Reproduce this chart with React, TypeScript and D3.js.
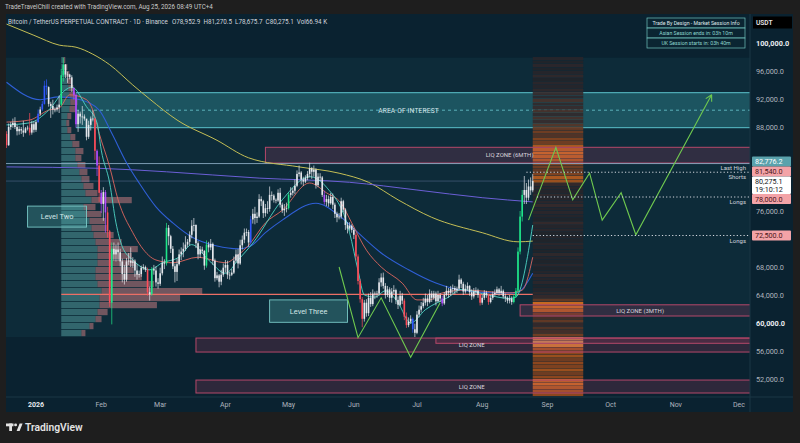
import React from 'react';
import * as d3 from 'd3';

// daily candles, [high, low, close] in thousands of USDT; open = previous close
const candleStart = '2025-12-18';
const firstOpen = 87.0;
const dec25 = [[87.4,85.0,85.4],[88.5,85.3,88.0],[88.7,87.6,88.3],[89.2,87.9,88.6],[89.4,87.7,88.0],[88.3,86.8,87.4],[88.1,86.9,87.7],[88.0,87.0,87.5],[88.9,86.6,87.2],[88.0,87.1,87.8],[88.2,87.5,87.9],[90.0,86.8,87.2],[88.9,86.9,88.4],[88.8,87.2,87.6]];
const jan26 = [[88.9,87.3,88.7],[90.5,88.6,89.9],[90.9,89.6,90.5],[91.7,90.3,91.3],[94.6,91.2,93.9],[94.8,92.6,93.7],[93.8,90.9,91.3],[91.6,89.3,91.0],[91.9,89.8,90.5],[90.8,90.1,90.5],[91.2,90.2,90.8],[92.5,90.0,91.2],[96.3,91.0,95.4],[97.9,94.5,96.9],[97.0,95.0,95.5],[95.9,94.3,95.5],[95.6,94.8,95.1],[95.4,93.0,93.6],[93.2,91.9,92.6],[92.8,87.9,88.4],[90.4,87.3,89.9],[90.2,88.5,89.5],[91.0,88.3,89.5],[89.8,88.9,89.2],[89.1,86.1,86.6],[88.9,86.3,88.3],[89.5,87.5,89.2],[90.4,88.8,89.2],[89.3,83.3,84.6],[84.8,81.0,82.5],[83.8,77.3,78.6]];
const feb26 = [[79.0,75.7,77.0],[79.4,74.6,78.7],[79.0,72.9,75.8],[76.6,72.2,73.1],[73.3,62.3,62.9],[71.5,59.8,70.6],[71.5,68.9,69.8],[71.2,68.8,70.5],[71.5,68.9,70.1],[70.6,68.1,68.8],[69.2,65.8,67.0],[68.3,65.5,66.2],[69.3,65.9,68.8],[70.0,68.3,68.9],[70.8,68.0,68.6],[69.4,67.9,68.8],[69.1,66.6,67.5],[68.4,66.2,66.9],[67.5,66.5,67.0],[68.2,66.6,67.9],[68.4,67.6,68.0],[68.2,67.3,67.6],[67.9,63.9,64.4],[65.2,63.2,64.1],[68.0,63.9,67.7],[68.3,66.9,67.5],[68.1,65.2,65.8],[66.4,64.9,65.6]];
const mar26 = [[67.9,65.3,67.1],[69.5,66.8,68.6],[69.1,67.7,68.5],[74.3,68.2,73.6],[74.0,71.1,72.4],[72.6,70.0,70.6],[71.0,67.7,68.1],[68.5,65.8,67.3],[69.2,66.0,68.4],[70.5,68.2,69.8],[70.8,69.0,70.2],[71.5,69.4,70.6],[72.4,70.3,71.2],[72.0,70.8,71.6],[73.1,71.1,72.6],[74.7,72.1,73.9],[75.0,73.1,74.0],[74.1,70.7,71.4],[71.7,69.1,69.8],[71.0,69.3,70.5],[70.9,69.9,70.3],[70.4,67.6,68.2],[71.8,67.9,71.2],[71.6,70.1,70.8],[72.0,70.4,71.3],[71.5,68.3,68.9],[69.2,65.9,66.4],[67.3,66.1,66.8],[67.0,65.1,65.9],[67.6,65.4,66.9],[68.5,66.6,67.9]];
const apr26 = [[69.0,67.2,68.3],[68.9,66.3,66.9],[67.3,66.2,66.9],[67.7,66.7,67.2],[69.5,67.0,68.9],[70.5,68.6,69.8],[70.6,67.8,68.5],[71.9,68.3,71.1],[72.5,70.5,71.9],[73.5,71.4,72.9],[73.5,72.4,73.0],[73.3,70.9,71.5],[75.3,71.2,74.8],[76.3,74.2,75.6],[76.6,74.1,75.0],[75.8,74.3,75.2],[78.4,75.0,77.7],[78.1,76.7,77.4],[77.6,75.0,75.7],[77.0,75.2,76.4],[77.4,75.6,76.3],[79.5,75.9,78.3],[78.8,77.5,78.2],[78.4,77.2,77.6],[77.8,77.1,77.5],[79.1,77.3,78.6],[79.3,76.5,76.9],[77.2,75.7,76.1],[77.0,75.3,76.3],[77.2,75.8,76.4]];
const may26 = [[78.6,76.2,78.3],[79.4,77.9,78.6],[79.3,78.2,78.9],[80.5,78.4,79.6],[81.8,79.4,81.3],[82.5,80.9,81.5],[81.7,79.8,80.5],[80.9,79.6,80.2],[81.1,80.0,80.7],[81.7,80.4,81.3],[82.9,80.8,82.1],[82.3,80.6,81.6],[82.5,80.9,81.9],[82.1,79.2,79.7],[81.4,79.4,80.9],[81.4,80.3,80.8],[81.0,78.0,78.3],[78.9,76.9,77.3],[78.3,76.7,77.7],[78.2,76.6,77.1],[78.6,76.9,78.0],[78.5,76.3,76.9],[77.2,75.0,75.6],[75.9,74.4,75.1],[75.7,74.8,75.2],[77.9,74.9,77.4],[77.6,75.8,76.2],[76.4,73.3,74.0],[74.4,72.8,73.5],[74.4,73.2,73.9],[74.1,72.9,73.3]];
const jun26 = [[73.6,72.0,72.6],[72.9,69.0,69.5],[69.8,65.5,66.0],[66.3,62.9,63.4],[63.7,59.4,60.6],[63.3,60.2,62.9],[63.4,60.9,61.4],[64.2,61.0,63.6],[64.4,62.3,62.7],[64.8,62.4,64.2],[64.5,63.4,64.1],[64.6,63.6,64.2],[66.4,63.9,65.8],[67.1,65.2,66.5],[67.2,64.9,65.3],[65.7,63.5,64.0],[65.3,63.7,64.8],[65.1,63.0,63.6],[65.0,62.9,64.5],[65.4,64.1,64.7],[64.9,62.7,63.3],[63.8,62.0,62.6],[64.6,62.4,63.9],[64.3,62.7,63.2],[63.5,60.4,60.9],[61.5,59.3,59.7],[60.8,59.4,60.2],[61.1,59.9,60.6],[60.8,58.6,59.1],[59.9,58.0,58.6]];
const jul26 = [[61.7,58.4,61.2],[62.5,60.8,61.9],[63.0,61.5,62.4],[63.6,62.1,62.9],[64.2,62.5,63.5],[64.0,62.4,63.0],[64.8,62.8,64.2],[64.6,63.0,63.6],[64.6,63.3,64.2],[64.5,62.5,63.1],[64.6,63.0,64.0],[64.3,63.0,63.5],[63.9,62.4,62.8],[64.4,62.6,64.0],[65.3,63.8,64.6],[65.0,63.6,64.3],[65.3,63.9,64.9],[65.5,64.2,65.0],[65.3,64.1,64.7],[65.2,64.3,64.9],[66.9,64.6,66.2],[66.4,65.0,65.6],[65.9,64.0,64.5],[65.5,64.2,64.9],[65.8,64.6,65.3],[65.4,63.9,64.4],[64.8,63.3,63.8],[65.0,63.5,64.5],[65.1,64.0,64.6],[64.9,63.6,64.0],[64.3,62.5,62.9]];
const aug26 = [[64.0,62.6,63.6],[64.7,63.3,64.3],[64.6,63.6,64.0],[64.2,62.6,63.0],[64.0,62.8,63.6],[64.5,63.3,64.1],[64.8,63.8,64.3],[65.2,64.0,64.8],[65.0,63.9,64.3],[65.3,64.0,64.6],[64.8,63.5,63.8],[64.2,63.0,63.6],[63.8,62.8,63.2],[64.0,62.8,63.5],[63.8,62.6,63.0],[64.1,62.8,63.8],[65.0,63.6,64.6],[70.8,64.3,70.2],[76.0,69.8,75.2],[79.0,74.5,78.3],[81.0,77.0,79.0],[80.0,77.0,77.9],[80.5,77.5,79.5],[80.8,78.3,78.95],[81.27,78.68,80.28]];

// indicator bar colouring
const greenDays = ['2026-01-13','2026-01-14','2026-02-06','2026-02-25','2026-03-04','2026-03-23','2026-05-01','2026-08-16','2026-08-17','2026-08-18','2026-08-19','2026-08-20'];
const redDays = ['2025-12-18','2025-12-29','2026-01-29','2026-01-31','2026-02-04','2026-02-05','2026-02-23','2026-06-02','2026-06-03','2026-06-04','2026-06-05','2026-06-25','2026-06-26','2026-07-31','2026-08-04'];
const blueDays = ['2026-01-02','2026-01-04','2026-01-05','2026-01-06','2026-04-13','2026-06-29'];
const purpleDays = ['2026-01-19','2026-01-20','2026-01-30','2026-02-01','2026-02-03','2026-05-18','2026-07-13'];

// moving averages, [date, price k]
const maYellow = [['2025-12-18',102.7],['2025-12-31',101.1],['2026-01-12',99.7],['2026-01-20',99.4],['2026-01-28',98.4],['2026-02-05',96.9],['2026-02-16',94.0],['2026-02-24',92.0],['2026-03-09',89.0],['2026-03-28',86.1],['2026-04-12',83.6],['2026-05-06',82.3],['2026-05-25',81.4],['2026-06-08',80.1],['2026-06-22',77.6],['2026-07-08',75.1],['2026-08-01',72.9],['2026-08-18',71.6],['2026-08-25',71.7]];
const maPurple = [['2025-12-18',82.3],['2026-01-31',82.1],['2026-03-04',81.6],['2026-04-17',80.7],['2026-05-30',80.1],['2026-07-01',79.0],['2026-08-01',77.9],['2026-08-25',77.3]];
const maBlue = [['2025-12-18',94.4],['2026-01-03',91.9],['2026-01-12',92.3],['2026-01-22',91.9],['2026-01-31',90.4],['2026-02-06',87.1],['2026-02-13',82.9],['2026-02-19',80.0],['2026-02-27',76.6],['2026-03-07',74.3],['2026-03-16',72.3],['2026-03-28',71.0],['2026-04-07',70.6],['2026-04-13',71.0],['2026-04-20',72.9],['2026-04-28',74.7],['2026-05-14',77.1],['2026-05-26',75.1],['2026-06-03',72.9],['2026-06-14',70.0],['2026-06-27',67.6],['2026-07-10',65.7],['2026-07-22',64.7],['2026-08-10',64.3],['2026-08-17',64.3],['2026-08-25',67.1]];
const maRed = [['2025-12-18',88.7],['2025-12-29',89.0],['2026-01-07',90.4],['2026-01-12',90.7],['2026-01-17',92.6],['2026-01-25',91.9],['2026-01-28',90.4],['2026-01-31',87.1],['2026-02-05',82.3],['2026-02-09',77.6],['2026-02-16',72.9],['2026-02-20',70.9],['2026-02-27',69.0],['2026-03-07',68.6],['2026-03-19',69.4],['2026-04-01',68.6],['2026-04-07',69.7],['2026-04-12',71.1],['2026-04-20',74.3],['2026-04-28',76.1],['2026-05-11',80.0],['2026-05-19',78.6],['2026-05-26',77.1],['2026-05-31',74.3],['2026-06-07',70.4],['2026-06-14',68.0],['2026-06-24',65.7],['2026-07-01',63.3],['2026-07-07',63.3],['2026-07-13',64.3],['2026-07-24',64.7],['2026-08-14',64.3],['2026-08-20',64.7],['2026-08-25',69.4]];
const maTeal = [['2025-12-18',88.3],['2025-12-29',88.6],['2026-01-07',90.4],['2026-01-15',93.3],['2026-01-18',93.7],['2026-01-25',90.9],['2026-01-30',88.6],['2026-02-01',84.7],['2026-02-05',80.0],['2026-02-08',74.3],['2026-02-11',70.9],['2026-02-16',69.0],['2026-02-24',67.6],['2026-03-02',68.6],['2026-03-10',69.4],['2026-03-16',71.2],['2026-03-24',69.0],['2026-04-01',67.1],['2026-04-07',69.0],['2026-04-14',71.4],['2026-04-28',77.6],['2026-05-11',80.9],['2026-05-19',79.4],['2026-05-30',72.9],['2026-06-03',67.5],['2026-06-06',64.0],['2026-06-11',63.7],['2026-06-16',64.6],['2026-06-22',62.9],['2026-06-28',60.0],['2026-07-05',61.9],['2026-07-16',63.7],['2026-07-22',64.8],['2026-08-05',63.9],['2026-08-14',63.5],['2026-08-17',63.7],['2026-08-25',74.0]];

// drawn projections
const projW = [['2026-05-25',68.0],['2026-06-03',57.9],['2026-06-14',63.6],['2026-06-28',55.1],['2026-07-12',62.9]];
const projUp = [['2026-08-23',74.7],['2026-09-05',85.1],['2026-09-13',77.6],['2026-09-21',81.4],['2026-09-27',74.7],['2026-10-06',78.6],['2026-10-13',72.6],['2026-11-18',92.6]];

// volume profile rows (row floor, total, buy part)
const profAnchor = '2026-01-13';
const profRows = [58,59,60,61,62,63,64,65,66,67,68,69,70,71,72,73,74,75,76,77,78,79,80,81,82,83,84,85,86,87,88,89,90,91,92,93,94,95,96,97];
const profTotal = [24,32,40,46,95,118,140,92,80,72,74,70,76,60,52,45,44,40,34,70,36,32,28,26,24,20,22,18,14,10,8,10,14,16,14,12,10,8,6,4];
const profBuy = [20,28,34,36,38,38,40,36,34,34,36,36,36,34,32,30,28,24,22,30,24,22,20,18,16,14,14,11,9,6,5,6,8,9,8,7,6,5,3,2];
const pocPrice = 64.1;

// liquidation heatmap column, [row top, intensity]
const heatFrom = '2026-08-25';
const heatTo = '2026-09-18';
const heat = [[98,.15],[97.5,.1],[97,.2],[96.5,.1],[96,.15],[95.5,.25],[95,.1],[94.5,.2],[94,.15],[93.5,.25],[93,.3],[92.5,.2],[92,.35],[91.5,.25],[91,.3],[90.5,.35],[90,.25],[89.5,.35],[89,.3],[88.5,.4],[88,.45],[87.5,.5],[87,.4],[86.5,.55],[86,.5],[85.5,.7],[85,.8],[84.5,.85],[84,.8],[83.5,.75],[83,.55],[82.5,.5],[82,.45],[81.5,.55],[81,.7],[80.5,.65],[80,.3],[79.5,.2],[79,.15],[78.5,.25],[78,.15],[77.5,.2],[77,.3],[76.5,.15],[76,.2],[75.5,.15],[75,.1],[74.5,.3],[74,.15],[73.5,.2],[73,.1],[72.5,.15],[72,.1],[71.5,.2],[71,.15],[70.5,.1],[70,.25],[69.5,.15],[69,.1],[68.5,.2],[68,.1],[67.5,.15],[67,.3],[66.5,.15],[66,.2],[65.5,.1],[65,.15],[64.5,.25],[64,.3],[63.5,.45],[63,.8],[62.5,.85],[62,.75],[61.5,.5],[61,.35],[60.5,.45],[60,.3],[59.5,.4],[59,.35],[58.5,.5],[58,.95],[57.5,1],[57,.9],[56.5,.7],[56,.6],[55.5,.65],[55,.5],[54.5,.6],[54,.55],[53.5,.65],[53,.5],[52.5,.6],[52,.8],[51.5,.85],[51,.75],[50.5,.7],[50,.6]];

const aoi = { from: '2026-01-20', top: 92.9, bottom: 87.9, labelAt: '2026-06-27', label: 'AREA OF INTEREST' };
const liqZones = [
  { from: '2026-04-20', top: 85.1, bottom: 82.85, label: 'LIQ ZONE (6MTH)', labelAt: '2026-08-14' },
  { from: '2026-08-19', top: 62.6, bottom: 61.0, label: 'LIQ ZONE (3MTH)', labelAt: '2026-10-15' },
  { from: '2026-03-18', top: 57.85, bottom: 55.85, label: 'LIQ ZONE', labelAt: '2026-07-27' },
  { from: '2026-07-10', top: 57.85, bottom: 57.1, label: '', labelAt: '' },
  { from: '2026-03-18', top: 51.85, bottom: 50.0, label: 'LIQ ZONE', labelAt: '2026-07-27' },
];
const levelBoxes = [
  { from: '2025-12-28', to: '2026-01-25', top: 76.7, bottom: 73.7, label: 'Level Two' },
  { from: '2026-04-22', to: '2026-05-29', top: 63.3, bottom: 60.1, label: 'Level Three' },
];
const levels = [
  { p: 81.54, from: '2026-08-22', above: 'Last High', below: 'Shorts' },
  { p: 78.0, from: '2026-08-27', above: '', below: 'Longs' },
  { p: 72.5, from: '2026-08-25', above: '', below: 'Longs' },
];
const highLine = 82.7762;
const lastPrice = 80.2751;
const axisTags = [
  { p: 82.7762, text: '82,776.2', sub: '', bg: '#5aa2ac', fg: '#ffffff' },
  { p: 81.54, text: '81,540.0', sub: '', bg: '#f3a3a7', fg: '#4a1418' },
  { p: 80.2751, text: '80,275.1', sub: '19:10:12', bg: '#ffffff', fg: '#131722' },
  { p: 78.0, text: '78,000.0', sub: '', bg: '#f3a3a7', fg: '#4a1418' },
  { p: 72.5, text: '72,500.0', sub: '', bg: '#f3a3a7', fg: '#4a1418' },
];
const sessionRows = ['Trade By Design - Market Session Info', 'Asian Session ends in: 03h 10m', 'UK Session starts in: 03h 40m'];

const FONT = "Roboto, 'Noto Sans', sans-serif";
const parse = d3.utcParse('%Y-%m-%d');
const day = (s: string) => parse(s) as Date;
const fmtDay = d3.utcFormat('%Y-%m-%d');

const x = d3.scaleUtc().domain([day('2026-01-01'), day('2026-12-01')]).range([36, 739]);
const y = d3.scaleLinear().domain([52, 100]).range([379, 43]);
const L = 6, R = 750, T = 14, B = 397;

const rows = [dec25, jan26, feb26, mar26, apr26, may26, jun26, jul26, aug26].flat();
const candles = rows.map((d, i) => ({
  date: d3.utcDay.offset(day(candleStart), i),
  o: i === 0 ? firstOpen : rows[i - 1][2],
  h: d[0], l: d[1], c: d[2],
}));
const lastDate = candles[candles.length - 1].date;
const colorSets: [string[], string][] = [[greenDays, '#1fe58a'], [redDays, '#ff4d5a'], [blueDays, '#3158ff'], [purpleDays, '#b14cff']];
const candleColor = (dt: Date) => {
  const k = fmtDay(dt);
  for (const [list, col] of colorSets) if (list.includes(k)) return col;
  return '#e4e7ec';
};

const maLine = d3.line<any>().x(d => x(day(d[0]))).y(d => y(d[1])).curve(d3.curveMonotoneX);
const straight = d3.line<any>().x(d => x(day(d[0]))).y(d => y(d[1]));

const profW = d3.scaleLinear().domain([0, d3.max(profTotal) as number]).range([0, 141]);
const heatColor = d3.scaleLinear<string>().domain([0, 0.3, 0.6, 0.85, 1]).range(['#182129', '#37292a', '#9a4a1d', '#ec7a1f', '#ffbd5a']);

function layoutTags() {
  const base = axisTags.map(t => ({ ...t, h: t.sub ? 17.5 : 10, top: 0 }));
  const anchor = base.findIndex(t => t.sub);
  base[anchor].top = y(base[anchor].p) - 4.5;
  for (let i = anchor - 1; i >= 0; i--) {
    const want = y(base[i].p) - base[i].h / 2;
    base[i].top = Math.min(want, base[i + 1].top - base[i].h);
  }
  for (let i = anchor + 1; i < base.length; i++) {
    const want = y(base[i].p) - base[i].h / 2;
    base[i].top = Math.max(want, base[i - 1].top + base[i - 1].h);
  }
  return base;
}

const App = () => {
  const tags = layoutTags();
  const rangeHi = d3.max(candles, d => d.h) as number;
  const rangeLo = d3.min(candles, d => d.l) as number;
  // tick labels covered by a price tag are not shown
  const priceTicks = d3.range(52, 101, 4).filter(p => !tags.some(t => y(p) > t.top - 3 && y(p) < t.top + t.h + 3));
  const months = x.ticks(d3.utcMonth.every(1) as any);
  const arrowEnd = projUp[projUp.length - 1];
  const arrowPrev = projUp[projUp.length - 2];
  const ax = x(day(arrowEnd[0] as string)), ay = y(arrowEnd[1] as number);
  const ang = Math.atan2(ay - y(arrowPrev[1] as number), ax - x(day(arrowPrev[0] as string)));

  return (
    <div style={{ position: 'absolute', left: 0, top: 0 }}>
      <svg width={800} height={443} style={{ display: 'block', fontFamily: FONT }}>
        <defs>
          <clipPath id="plot"><rect x={L} y={T} width={R - L} height={B - T} /></clipPath>
        </defs>
        <rect width={800} height={443} fill="#1e1e1e" />
        <rect x={L} y={T} width={793 - L} height={412 - T} fill="#0a2230" />
        <g clipPath="url(#plot)">
          <rect x={L} y={y(rangeHi)} width={R - L} height={y(rangeLo) - y(rangeHi)} fill="#0d2b39" />
          {/* area of interest */}
          <rect x={x(day(aoi.from))} y={y(aoi.top)} width={R - x(day(aoi.from))} height={y(aoi.bottom) - y(aoi.top)} fill="rgba(64,178,190,0.3)" />
          <line x1={x(day(aoi.from))} x2={R} y1={y(aoi.top)} y2={y(aoi.top)} stroke="#5cc3cc" strokeWidth={1} />
          <line x1={x(day(aoi.from))} x2={R} y1={y(aoi.bottom)} y2={y(aoi.bottom)} stroke="#5cc3cc" strokeWidth={1} />
          <line x1={x(day(aoi.from))} x2={R} y1={y((aoi.top + aoi.bottom) / 2)} y2={y((aoi.top + aoi.bottom) / 2)} stroke="#6cc9d2" strokeWidth={0.8} strokeDasharray="3 3" />

          {/* heatmap */}
          {heat.map(([p, v], i) => (
            <rect key={i} x={x(day(heatFrom))} width={x(day(heatTo)) - x(day(heatFrom))} y={y(p)} height={y(p - 0.5) - y(p) - 0.4}
              fill={heatColor(v)} opacity={0.9} />
          ))}

          {/* volume profile */}
          {profRows.map((p, i) => {
            const x0 = x(day(profAnchor));
            const yt = y(p + 1), h = y(p) - y(p + 1) - 0.8;
            return (
              <g key={i}>
                <rect x={x0} y={yt} width={profW(profBuy[i])} height={h} fill="rgba(96,176,172,0.45)" />
                <rect x={x0 + profW(profBuy[i])} y={yt} width={profW(profTotal[i] - profBuy[i])} height={h} fill="rgba(214,130,134,0.5)" />
              </g>
            );
          })}

          {/* liquidation zones */}
          {liqZones.map((z, i) => (
            <rect key={i} x={x(day(z.from))} y={y(z.top)} width={R - x(day(z.from)) + 2} height={y(z.bottom) - y(z.top)}
              fill="rgba(150,58,92,0.26)" stroke="#b5486a" strokeWidth={1} />
          ))}

          {/* horizontal lines */}
          <line x1={L} x2={R} y1={y(highLine)} y2={y(highLine)} stroke="#8fb0c8" strokeWidth={1} opacity={0.85} />
          <line x1={L} x2={x(lastDate)} y1={y(lastPrice)} y2={y(lastPrice)} stroke="#7f8fc0" strokeWidth={0.6} opacity={0.6} />
          <line x1={x(day(profAnchor))} x2={x(lastDate)} y1={y(pocPrice)} y2={y(pocPrice)} stroke="#ec6f66" strokeWidth={1.2} />

          {/* moving averages */}
          <path d={maLine(maYellow) as string} fill="none" stroke="#c4be55" strokeWidth={1} />
          <path d={maLine(maPurple) as string} fill="none" stroke="#6b5fd6" strokeWidth={1} />
          <path d={maLine(maBlue) as string} fill="none" stroke="#2f5fd6" strokeWidth={1.1} />
          <path d={maLine(maRed) as string} fill="none" stroke="#e0675f" strokeWidth={0.9} />
          <path d={maLine(maTeal) as string} fill="none" stroke="#4fd6c6" strokeWidth={0.9} />

          {/* candles */}
          {candles.map((c, i) => {
            const cx = x(c.date);
            const col = candleColor(c.date);
            const top = Math.min(y(c.o), y(c.c));
            const hb = Math.max(0.8, Math.abs(y(c.o) - y(c.c)));
            return (
              <g key={i}>
                <line x1={cx} x2={cx} y1={y(c.h)} y2={y(c.l)} stroke={col} strokeWidth={0.7} />
                <rect x={cx - 0.8} y={top} width={1.6} height={hb} fill={col} />
              </g>
            );
          })}

          {/* level boxes */}
          {levelBoxes.map((b, i) => (
            <g key={i}>
              <rect x={x(day(b.from))} y={y(b.top)} width={x(day(b.to)) - x(day(b.from))} height={y(b.bottom) - y(b.top)}
                fill="rgba(86,176,176,0.3)" stroke="#79c9c6" strokeWidth={0.9} />
              <text x={(x(day(b.from)) + x(day(b.to))) / 2} y={(y(b.top) + y(b.bottom)) / 2 + 2.6} fontSize={7.4} fill="#d3e7e6" textAnchor="middle">{b.label}</text>
            </g>
          ))}

          {/* projections */}
          <path d={straight(projW) as string} fill="none" stroke="#6fc94f" strokeWidth={1.1} />
          <path d={straight(projUp) as string} fill="none" stroke="#6fc94f" strokeWidth={1.1} />
          {[-1, 1].map(s => (
            <line key={s} x1={ax} y1={ay} x2={ax - 7 * Math.cos(ang + s * 0.5)} y2={ay - 7 * Math.sin(ang + s * 0.5)} stroke="#6fc94f" strokeWidth={1.1} />
          ))}

          {/* dotted levels */}
          {levels.map((lv, i) => (
            <g key={i}>
              <line x1={x(day(lv.from))} x2={R} y1={y(lv.p)} y2={y(lv.p)} stroke="#d5d9e0" strokeWidth={1} strokeDasharray="1.2 2.2" />
              {lv.above && <text x={R - 4} y={y(lv.p) - 2.2} fontSize={6} fill="#d1d4dc" textAnchor="end">{lv.above}</text>}
              {lv.below && <text x={R - 4} y={y(lv.p) + 7.2} fontSize={6} fill="#d1d4dc" textAnchor="end">{lv.below}</text>}
            </g>
          ))}

          {/* zone labels */}
          <text x={x(day(aoi.labelAt))} y={y((aoi.top + aoi.bottom) / 2) + 2.3} fontSize={6.6} fill="#d6e6ea" textAnchor="middle" letterSpacing={0.2}>{aoi.label}</text>
          {liqZones.filter(z => z.label).map((z, i) => (
            <text key={i} x={x(day(z.labelAt))} y={(y(z.top) + y(z.bottom)) / 2 + 2.2} fontSize={6} fill="#d8d3dc" textAnchor="middle">{z.label}</text>
          ))}
        </g>

        {/* header */}
        <text x={5} y={9} fontSize={6.3} fill="#c9c9c9">TradeTravelChill created with TradingView.com, Aug 25, 2026 08:49 UTC+4</text>
        <text x={8} y={23.5} fontSize={6.3} fill="#d1d4dc">
          Bitcoin / TetherUS PERPETUAL CONTRACT · 1D · Binance
          <tspan dx={4}>O78,952.9</tspan><tspan dx={3}>H81,270.5</tspan><tspan dx={3}>L78,675.7</tspan><tspan dx={3}>C80,275.1</tspan><tspan dx={3}>Vol66.94 K</tspan>
        </text>

        {/* session info table */}
        <g>
          {sessionRows.map((r, i) => (
            <g key={i}>
              <rect x={647} y={18 + i * 10} width={98} height={10} fill="rgba(12,40,52,0.6)" stroke="#6fc3bd" strokeWidth={0.7} />
              <text x={696} y={24.8 + i * 10} fontSize={5.2} fill={i === 0 ? '#dfe8ea' : '#8fd7cf'} textAnchor="middle">{r}</text>
            </g>
          ))}
        </g>

        {/* price axis */}
        <line x1={R} x2={R} y1={T} y2={412} stroke="#1b3644" strokeWidth={1} />
        <rect x={753} y={16.5} width={39} height={12} fill="#000000" />
        <text x={756} y={25} fontSize={6.6} fill="#e8e8e8" fontWeight={600}>USDT</text>
        {priceTicks.map(p => (
          <text key={p} x={756} y={y(p) + 2.6} fontSize={7.3} fill={p % 20 === 0 ? '#eceff3' : '#aeb4bd'} fontWeight={p % 20 === 0 ? 700 : 400}>
            {d3.format(',.1f')(p * 1000)}
          </text>
        ))}
        {tags.map((t, i) => (
          <g key={i}>
            <rect x={752} y={t.top} width={39} height={t.h} fill={t.bg} rx={1} />
            <text x={755} y={t.top + 7.5} fontSize={7.2} fill={t.fg}>{t.text}</text>
            {t.sub && <text x={755} y={t.top + 15.5} fontSize={7.2} fill={t.fg}>{t.sub}</text>}
          </g>
        ))}

        {/* time axis */}
        <line x1={L} x2={793} y1={B} y2={B} stroke="#1b3644" strokeWidth={1} />
        {months.map((m, i) => (
          <text key={i} x={x(m)} y={406.5} fontSize={7} textAnchor="middle"
            fill={m.getUTCMonth() === 0 ? '#e6e9ee' : '#aeb4bd'} fontWeight={m.getUTCMonth() === 0 ? 700 : 400}>
            {m.getUTCMonth() === 0 ? d3.utcFormat('%Y')(m) : d3.utcFormat('%b')(m)}
          </text>
        ))}

        {/* footer logo */}
        <g fill="#e3e3e3">
          <rect x={6} y={423.5} width={7.5} height={2.8} />
          <rect x={9.2} y={423.5} width={2.8} height={7.5} />
          <circle cx={15.6} cy={424.9} r={1.45} />
          <path d="M16.6 431 L19.6 423.5 L22.6 423.5 L19.6 431 Z" />
        </g>
        <text x={25} y={431} fontSize={10.3} fontWeight={600} fill="#e3e3e3">TradingView</text>
      </svg>
    </div>
  );
};

export default App;
